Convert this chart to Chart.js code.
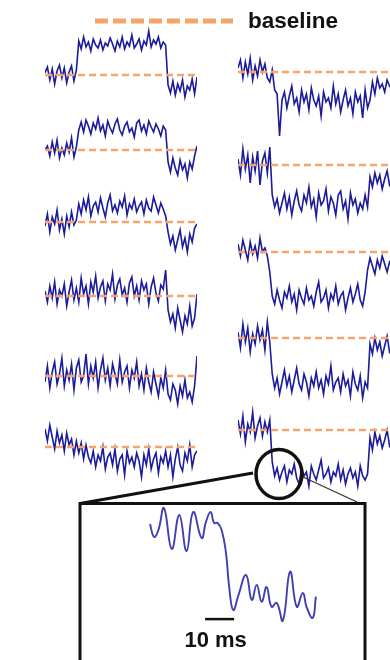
<!DOCTYPE html>
<html><head><meta charset="utf-8">
<script src="https://cdn.jsdelivr.net/npm/chart.js@4.4.1/dist/chart.umd.min.js"></script>
<style>
html,body{margin:0;padding:0;background:#fff;}
body{width:390px;height:660px;position:relative;overflow:hidden;font-family:"Liberation Sans",Arial,sans-serif;}
.panel{position:absolute;}
.panel canvas{display:block;}
#deco{position:absolute;left:0;top:0;pointer-events:none;z-index:5;}
</style></head><body>
<svg id="deco" width="390" height="660" xmlns="http://www.w3.org/2000/svg">
  <line x1="95" y1="21" x2="233" y2="21" stroke="#F5A46B" stroke-width="5" stroke-dasharray="13 5"/>
  <text x="248" y="28" font-family="Liberation Sans, Arial, sans-serif" font-weight="bold" font-size="22.5" fill="#111">baseline</text>
  <rect x="80" y="503.5" width="285" height="200" fill="none" stroke="#111" stroke-width="3"/>
  <line x1="253" y1="473" x2="80" y2="503.5" stroke="#111" stroke-width="3"/>
  <line x1="303" y1="477" x2="357" y2="502" stroke="#333" stroke-width="1.3"/>
  <ellipse cx="279" cy="474" rx="23" ry="24.5" fill="none" stroke="#111" stroke-width="3.5"/>
</svg>
<script>
// ---------- data (deviation from baseline, arbitrary units, up = positive) ----------
const sampleIndex = Array.from({length: 64}, (_, i) => i);

const traceLeft1 = [2,8,-5,6,-9,4,10,-3,7,-8,3,9,-6,5, 34,26,38,28,33,24,36,30,27,35,25,32,29,37,31,24,34,28,38,26,33,29,40,27,31,36,25,34,30,44,28,35,31,38,27,33,30, -10,-18,-6,-20,-9,-16,-5,-22,-11,-15,-4,-19,-2];
const traceLeft2 = [0,4,-6,8,-3,10,-8,2,-5,7,-2,12,-7,3, 20,28,18,30,24,16,27,21,32,19,25,14,29,22,17,26,31,20,15,24,28,18,22,13,27,30,19,25,16,29,23,18,26,21,14,24,20, -12,-22,-8,-18,-25,-10,-20,-14,-28,-12,-19,-6,4];
const traceLeft3 = [-4,8,-10,5,-2,12,-8,3,-12,6,-5,10,-3,2, 18,8,22,12,25,6,16,20,10,24,14,5,19,27,11,17,9,21,15,26,7,18,13,23,10,16,20,8,22,14,11,25,17,9,19,13,6, -10,-22,-14,-28,-18,-8,-25,-16,-30,-12,-20,-6,-2];
const traceLeft4 = [5,-6,10,-2,14,-8,6,0,12,-10,4,16,-4,8,-6,18,2,10,-8,14,4,20,-2,9,15,-5,12,6,22,-3,11,17,1,8,-6,13,19,0,10,-4,15,6,12,-8,9,18,3,-5,11,7,26, -14,-26,-18,-32,-12,-24,-36,-20,-28,-10,-30,-22,2];
const traceLeft5 = [-6,10,-12,4,14,-8,2,18,-10,6,-4,12,-14,8,16,-6,0,22,-8,10,-2,14,-12,6,18,-4,8,-10,12,2,-8,16,-6,4,10,-12,6,-2,14,-10,2,-14,8,-6,-16,4,-8,-20,-2,-12,6,-18,-24,-8,-14,-28,-10,-20,-4,-22,-16,-26,-10,20];
const traceLeft6 = [18,6,22,10,-2,16,4,12,-4,14,2,8,-8,6,-6,4,-12,2,-10,-16,-4,-20,-8,-14,0,-22,-10,-6,-18,-2,-24,-12,-8,-28,-4,-16,-10,-20,-6,-14,-30,-8,-18,-2,-22,-12,-6,-26,-10,-16,-4,-20,-8,-30,-12,0,-18,-24,-6,-14,2,-20,-8,-4];

const traceRight1 = [4,12,-6,10,-2,14,-8,6,-4,12,0,8,-6, -10,2,-18,-22,-64,-28,-20,-36,-24,-14,-32,-26,-40,-18,-30,-22,-38,-16,-28,-34,-24,-44,-20,-30,-26,-36,-14,-32,-22,-40,-28,-18,-34,-26,-42,-20,-30,-24,-46,-18,-36,-28, -10,-22,-6,-16,-12,-20,-8,-14,-18];
const traceRight2 = [6,-10,16,-4,10,-18,8,-6,14,-20,4,12,-8,18, -30,-42,-34,-48,-38,-28,-44,-32,-50,-36,-26,-40,-46,-30,-38,-22,-42,-34,-52,-28,-40,-36,-24,-46,-32,-38,-50,-30,-26,-44,-36,-54,-28,-40,-34,-48,-38,-44,-30,-42, -12,-22,-8,-18,-10,-24,-14,-6,-20,-16];
const traceRight3 = [8,-4,12,2,-8,10,-2,6,-6,14,0,4,-4, -20, -44,-52,-38,-48,-56,-40,-46,-34,-50,-42,-58,-38,-46,-52,-36,-48,-44,-54,-40,-30,-50,-46,-38,-56,-42,-48,-34,-52,-44,-40,-58,-46,-36,-50,-42,-32,-48,-54,-40, -18,-6,-14,-22,-8,-16,-4,-12,-20,-10,-14];
const traceRight4 = [6,-10,14,-4,10,-14,4,-6,12,-2,8,-12,16,-4, -36,-50,-40,-56,-44,-32,-48,-38,-54,-42,-30,-46,-52,-36,-44,-58,-40,-48,-34,-50,-42,-56,-38,-46,-28,-52,-44,-40,-54,-36,-48,-42,-58,-34,-46,-52,-38,-60,-44,-50, -6,-16,0,-12,-4,-18,-8,2,-14,-10];
const traceRight5 = [10,-4,14,-12,6,-2,18,-8,4,12,-6,8,-2,10, -32,-46,-38,-50,-42,-36,-52,-40,-44,-34,-48,-54,-38,-46,-42,-56,-36,-44,-50,-40,-30,-48,-44,-38,-52,-42,-46,-34,-50,-40,-54,-44,-38,-48,-42,-56,-36,-46,-50,-44, -8,-20,-2,-14,-6,-18,-10,0,-16,-12];

const baselineLevel = 0;

// inset (zoomed) trace
const insetTimeMs = [0,1.4,2.9,4.8,7.5,10.1,12.6,14.9,17.8,19.3,20.9,22.1,23.2,24.7,26.2,27.3,28.7,30.5,33.1,35.1,36.8,38.5,40.2,41.9,43.7,45.8,48.3,50.6,52.7,54.0,56.1,57.2];
const insetSignal = [32,27.7,30,37.3,23.7,35,23,36,27.3,32.7,36,32.3,32.4,30,22.3,11,3.3,8.3,15,6.7,11.7,6.1,11,4.4,5.7,-0.2,16.1,4.4,9,4.3,0.7,7.8];
const scaleBarStartMs = 19;
const scaleBarLengthMs = 10;
const scaleBarLevel = 0.3;
const scaleBarLabel = '10 ms';

// ---------- layout ----------
const leftColumn = {x: 45, w: 152, baselines: [75,150,222,296,376,447], traces: [traceLeft1,traceLeft2,traceLeft3,traceLeft4,traceLeft5,traceLeft6]};
const rightColumn = {x: 238, w: 154, baselines: [72,165,252,338,430], traces: [traceRight1,traceRight2,traceRight3,traceRight4,traceRight5]};
const halfSpan = 70;
const traceColor = '#1b1b9c';
const baseColor = '#F5A46B';

function makeCanvas(left, top, w, h) {
  const div = document.createElement('div');
  div.className = 'panel';
  div.style.left = left + 'px'; div.style.top = top + 'px';
  div.style.width = w + 'px'; div.style.height = h + 'px';
  const c = document.createElement('canvas');
  c.width = w; c.height = h;
  c.style.width = w + 'px'; c.style.height = h + 'px';
  div.appendChild(c);
  document.body.insertBefore(div, document.getElementById('deco'));
  return c;
}

function drawTrace(col, k) {
  const values = col.traces[k];
  const c = makeCanvas(col.x, col.baselines[k] - halfSpan, col.w, halfSpan * 2);
  new Chart(c, {
    type: 'line',
    data: {
      datasets: [
        { data: [{x: sampleIndex[0], y: baselineLevel}, {x: sampleIndex[sampleIndex.length-1], y: baselineLevel}],
          borderColor: baseColor, borderWidth: 2.5, borderDash: [7,4], pointRadius: 0, tension: 0 },
        { data: values.map((v, i) => ({x: sampleIndex[i], y: v})),
          borderColor: traceColor, borderWidth: 1.6, pointRadius: 0, tension: 0 }
      ]
    },
    options: {
      responsive: false, animation: false, devicePixelRatio: 1,
      layout: {padding: 0},
      plugins: {legend: {display: false}, tooltip: {enabled: false}},
      scales: {
        x: {type: 'linear', display: false, min: 0, max: sampleIndex.length - 1},
        y: {display: false, min: -halfSpan, max: halfSpan}
      }
    }
  });
}

[leftColumn, rightColumn].forEach(col => col.traces.forEach((_, k) => drawTrace(col, k)));

// inset
const labelPlugin = {
  id: 'scaleLabel',
  afterDraw(chart) {
    const {ctx, scales} = chart;
    ctx.save();
    ctx.font = 'bold 22px "Liberation Sans", Arial, sans-serif';
    ctx.fillStyle = '#111';
    ctx.textAlign = 'center';
    ctx.textBaseline = 'alphabetic';
    ctx.fillText(scaleBarLabel, scales.x.getPixelForValue(scaleBarStartMs + scaleBarLengthMs/2) - 4, scales.y.getPixelForValue(-9));
    ctx.restore();
  }
};
const ic = makeCanvas(140, 503, 187, 157);
new Chart(ic, {
  type: 'line',
  data: {
    datasets: [
      { data: insetTimeMs.map((t, i) => ({x: t, y: insetSignal[i]})),
        borderColor: '#3f3fb2', borderWidth: 1.9, pointRadius: 0, tension: 0.45 },
      { data: [{x: scaleBarStartMs, y: scaleBarLevel}, {x: scaleBarStartMs + scaleBarLengthMs, y: scaleBarLevel}],
        borderColor: '#111', borderWidth: 2.5, pointRadius: 0, tension: 0 }
    ]
  },
  options: {
    responsive: false, animation: false, devicePixelRatio: 1,
    layout: {padding: 0},
    plugins: {legend: {display: false}, tooltip: {enabled: false}},
    scales: {
      x: {type: 'linear', display: false, min: -3.45, max: 61.03},
      y: {display: false, min: -13.33, max: 39}
    }
  },
  plugins: [labelPlugin]
});
</script>
</body></html>
